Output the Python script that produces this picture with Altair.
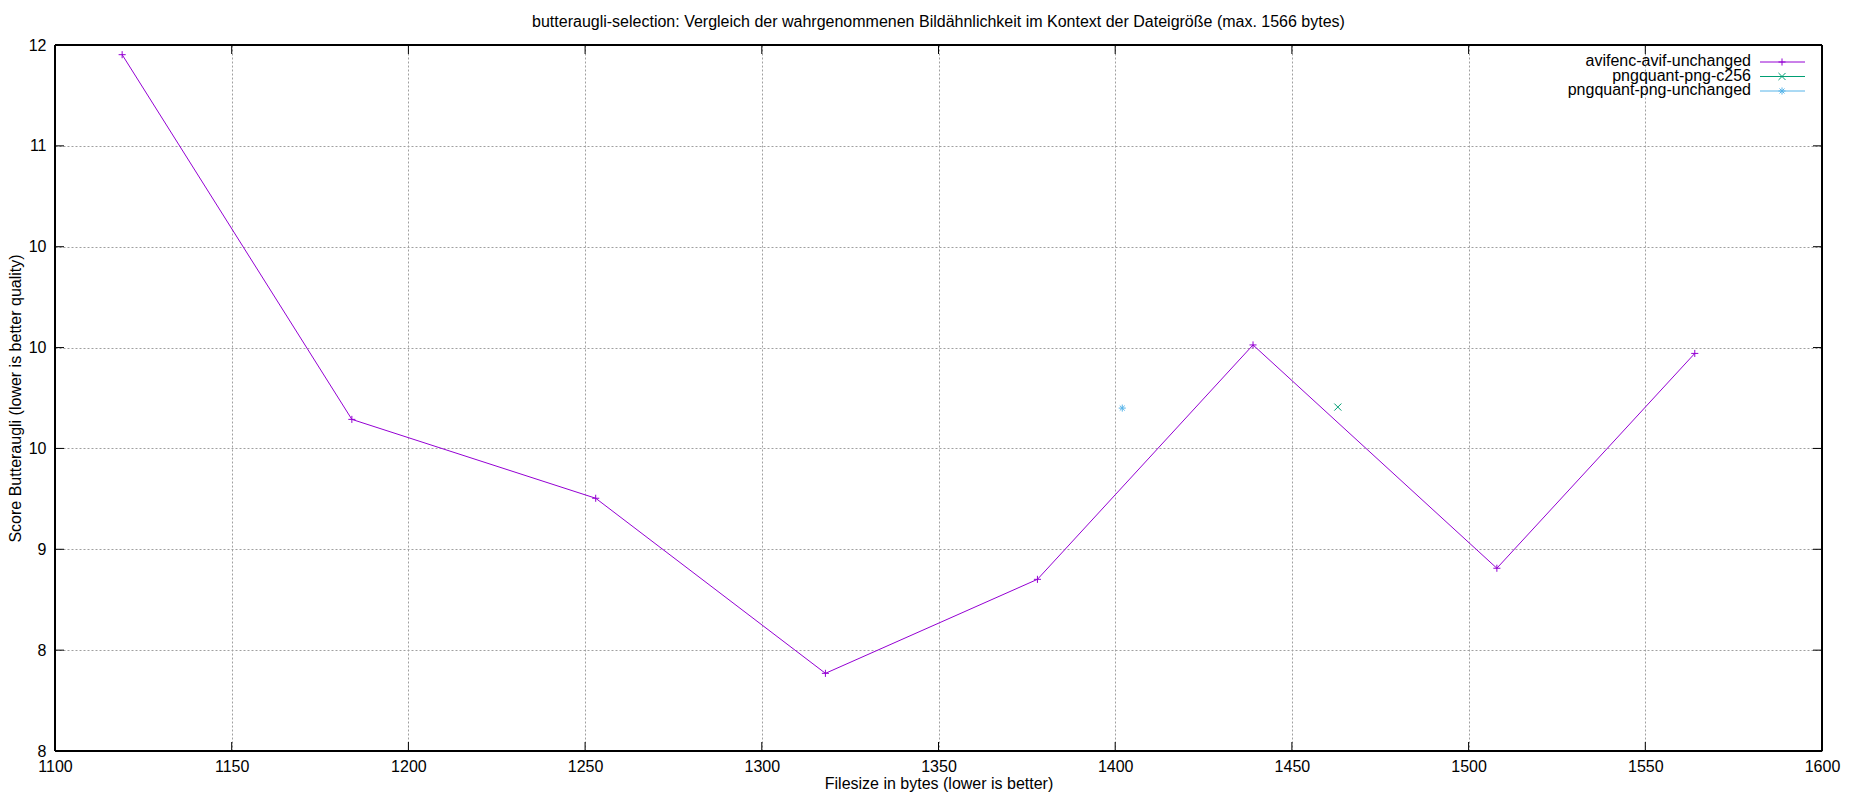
import altair as alt
import pandas as pd

# ---------------- data ----------------
title_text = "butteraugli-selection: Vergleich der wahrgenommenen Bildähnlichkeit im Kontext der Dateigröße (max. 1566 bytes)"
x_title = "Filesize in bytes (lower is better)"
y_title = "Score Butteraugli (lower is better quality)"

series_names = ["avifenc-avif-unchanged", "pngquant-png-c256", "pngquant-png-unchanged"]
series_colors = ["#9400d3", "#009e73", "#56b4e9"]

avif_size = [1119, 1184, 1253, 1318, 1378, 1439, 1508, 1564]
avif_score = [11.452, 9.644, 9.253, 8.385, 8.851, 10.013, 8.906, 9.971]
c256_size = [1463]
c256_score = [9.705]
unchanged_size = [1402]
unchanged_score = [9.700]

x_ticks = [1100, 1150, 1200, 1250, 1300, 1350, 1400, 1450, 1500, 1550, 1600]
y_ticks = [8, 8.5, 9, 9.5, 10, 10.5, 11, 11.5]
y_tick_labels = ["8", "8", "9", "10", "10", "10", "11", "12"]

# ---------------- tables ----------------
rows = []
for name, xs, ys in [(series_names[0], avif_size, avif_score),
                     (series_names[1], c256_size, c256_score),
                     (series_names[2], unchanged_size, unchanged_score)]:
    for xv, yv in zip(xs, ys):
        rows.append({"series": name, "size": xv, "score": yv})
df = pd.DataFrame(rows)
xt = pd.DataFrame({"v": x_ticks})
yt = pd.DataFrame({"v": y_ticks})
leg = pd.DataFrame({"series": series_names, "row": list(range(len(series_names)))})
title_df = pd.DataFrame({"t": [title_text]})

# ---------------- style ----------------
W, H = 1767, 706
FONT = "Liberation Sans"
marker_paths = [
    "M-1,0H1M0,-1V1",
    "M-1,-1L1,1M-1,1L1,-1",
    "M-1,0H1M0,-1V1M-0.7,-0.7L0.7,0.7M-0.7,0.7L0.7,-0.7",
]
color_scale = alt.Scale(domain=series_names, range=series_colors)
shape_scale = alt.Scale(domain=series_names, range=marker_paths)
x_scale = alt.Scale(domain=[x_ticks[0], x_ticks[-1]], nice=False, zero=False)
y_scale = alt.Scale(domain=[y_ticks[0], y_ticks[-1]], nice=False, zero=False)

label_expr = ""
for v, lab in zip(y_ticks, y_tick_labels):
    label_expr += f"datum.value == {v} ? '{lab}' : "
label_expr += "''"

x_axis = alt.Axis(values=x_ticks, format="d", title=x_title, grid=True, gridDash=[2, 2],
                  gridColor="#a0a0a0", gridWidth=1, domain=False, ticks=False,
                  labelFont=FONT, labelFontSize=16, labelColor="black", labelPadding=7,
                  labelFlush=False, titleFont=FONT, titleFontSize=16, titleFontWeight="normal",
                  titleColor="black", titlePadding=1)
y_axis = alt.Axis(values=y_ticks, labelExpr=label_expr, title=y_title, grid=True, gridDash=[2, 2],
                  gridColor="#a0a0a0", gridWidth=1, domain=False, ticks=False,
                  labelFont=FONT, labelFontSize=16, labelColor="black", labelPadding=9,
                  labelFlush=False, titleFont=FONT, titleFontSize=16, titleFontWeight="normal",
                  titleColor="black", titlePadding=5)


def X(field):
    return alt.X(field, type="quantitative", scale=x_scale, axis=x_axis)


def Y(field):
    return alt.Y(field, type="quantitative", scale=y_scale, axis=y_axis)


base = alt.Chart(df)
lines = base.mark_line(strokeWidth=1, clip=True).encode(
    x=X("size"), y=Y("score"),
    color=alt.Color("series:N", scale=color_scale, legend=None),
)
points = base.mark_point(filled=False, strokeWidth=1, size=50, opacity=1).encode(
    x=X("size"), y=Y("score"),
    color=alt.Color("series:N", scale=color_scale, legend=None),
    shape=alt.Shape("series:N", scale=shape_scale, legend=None),
)

tick_len = 9
xt_bottom = alt.Chart(xt).mark_rule(color="black", strokeWidth=1).encode(
    x=X("v"), y=alt.value(H), y2=alt.value(H - tick_len))
xt_top = alt.Chart(xt).mark_rule(color="black", strokeWidth=1).encode(
    x=X("v"), y=alt.value(0), y2=alt.value(tick_len))
yt_left = alt.Chart(yt).mark_rule(color="black", strokeWidth=1).encode(
    y=Y("v"), x=alt.value(0), x2=alt.value(tick_len))
yt_right = alt.Chart(yt).mark_rule(color="black", strokeWidth=1).encode(
    y=Y("v"), x=alt.value(W), x2=alt.value(W - tick_len))
border = alt.Chart(xt).mark_rect(fill=None, stroke="black", strokeWidth=1).encode(
    x=alt.value(0), x2=alt.value(W), y=alt.value(0), y2=alt.value(H))

main = alt.layer(lines, points, xt_bottom, xt_top, yt_left, yt_right, border)

leg_y = alt.Y("row:Q", scale=alt.Scale(domain=[0, 2], range=[17, 46]), axis=None)
leg_text = alt.Chart(leg).mark_text(align="right", baseline="middle", dy=-1, font=FONT,
                                    fontSize=16, color="black").encode(
    x=alt.value(1696), y=leg_y, text="series:N")
leg_rule = alt.Chart(leg).mark_rule(strokeWidth=1).encode(
    x=alt.value(1705), x2=alt.value(1750), y=leg_y,
    color=alt.Color("series:N", scale=color_scale, legend=None))
leg_pt = alt.Chart(leg).mark_point(filled=False, strokeWidth=1, size=50, opacity=1).encode(
    x=alt.value(1727), y=leg_y,
    color=alt.Color("series:N", scale=color_scale, legend=None),
    shape=alt.Shape("series:N", scale=shape_scale, legend=None))
# chart title drawn as a text mark centred over the plot area
title_mark = alt.Chart(title_df).mark_text(align="center", baseline="alphabetic", font=FONT,
                                           fontSize=16, color="black").encode(
    x=alt.value(W / 2), y=alt.value(-18), text="t:N")
legend = alt.layer(leg_text, leg_rule, leg_pt, title_mark)

chart = alt.layer(main, legend).resolve_scale(y="independent").properties(
    width=W, height=H,
    autosize=alt.AutoSizeParams(type="none"),
    padding={"left": 47, "top": 37, "right": 20, "bottom": 41},
).configure_view(stroke=None).configure(background="white")

chart.save("out.html", embed_options={"renderer": "svg", "actions": False})
